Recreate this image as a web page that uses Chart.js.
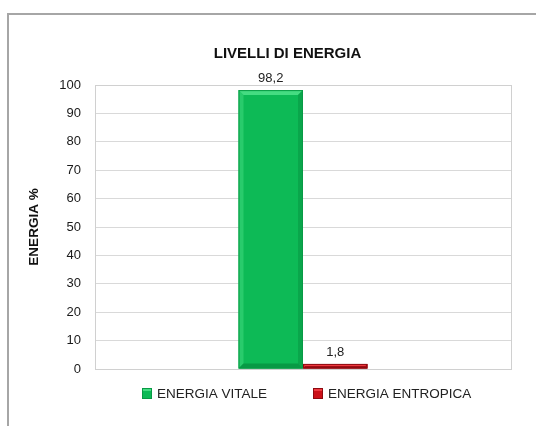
<!DOCTYPE html>
<html>
<head>
<meta charset="utf-8">
<script src="https://cdn.jsdelivr.net/npm/chart.js@4/dist/chart.umd.min.js"></script>
<style>
  html, body { margin: 0; padding: 0; background: #fff; }
  #frame { position: absolute; left: 7px; top: 13px; width: 600px; height: 500px; border: 2px solid #a6a6a6; box-sizing: border-box; }
  #wrap { position: absolute; left: 0; top: 0; width: 536px; height: 426px; }
</style>
</head>
<body>
<div id="frame"></div>
<div id="wrap"><canvas id="energyChart"></canvas></div>
<script>
  const categories = [''];
  const seriesNames = ['ENERGIA VITALE', 'ENERGIA ENTROPICA'];
  const vitale = [98.2];
  const entropica = [1.8];
  const yTicks = [0, 10, 20, 30, 40, 50, 60, 70, 80, 90, 100];

  const font = "'Liberation Sans', Arial, sans-serif";
  const bevelColors = [
    { light: '#45dc82', dark: '#089a45' },
    { light: '#ee3a40', dark: '#8e0a10' }
  ];

  // value labels above the bars, with comma decimals
  const valueLabels = {
    id: 'valueLabels',
    afterDatasetsDraw(chart) {
      const ctx = chart.ctx;
      ctx.save();
      ctx.font = '13px ' + font;
      ctx.fillStyle = '#222';
      ctx.textAlign = 'center';
      ctx.textBaseline = 'bottom';
      chart.data.datasets.forEach((ds, i) => {
        chart.getDatasetMeta(i).data.forEach((bar, j) => {
          ctx.fillText(String(ds.data[j]).replace('.', ','), bar.x, bar.y - 5);
        });
      });
      ctx.restore();
    }
  };

  // excel-ish bevel on each bar
  const bevel = {
    id: 'bevel',
    afterDatasetsDraw(chart) {
      const ctx = chart.ctx;
      ctx.save();
      chart.data.datasets.forEach((ds, i) => {
        const c = bevelColors[i];
        chart.getDatasetMeta(i).data.forEach(bar => {
          const l = bar.x - bar.width / 2, r = bar.x + bar.width / 2;
          const t = bar.y, b = bar.base;
          const s = Math.min(5, (b - t) / 2);
          ctx.fillStyle = c.light;
          ctx.beginPath();
          ctx.moveTo(l, t); ctx.lineTo(r, t); ctx.lineTo(r - s, t + s); ctx.lineTo(l + s, t + s);
          ctx.closePath(); ctx.fill();
          ctx.globalAlpha = 0.5;
          ctx.beginPath();
          ctx.moveTo(l, t); ctx.lineTo(l + s, t + s); ctx.lineTo(l + s, b - s); ctx.lineTo(l, b);
          ctx.closePath(); ctx.fill();
          ctx.globalAlpha = 1;
          ctx.fillStyle = c.dark;
          ctx.beginPath();
          ctx.moveTo(l, b); ctx.lineTo(r, b); ctx.lineTo(r - s, b - s); ctx.lineTo(l + s, b - s);
          ctx.closePath(); ctx.fill();
          ctx.globalAlpha = 0.6;
          ctx.beginPath();
          ctx.moveTo(r, t); ctx.lineTo(r - s, t + s); ctx.lineTo(r - s, b - s); ctx.lineTo(r, b);
          ctx.closePath(); ctx.fill();
          ctx.globalAlpha = 1;
          ctx.strokeStyle = c.dark;
          ctx.lineWidth = 1;
          ctx.strokeRect(l + 0.5, t + 0.5, r - l - 1, b - t - 1);
        });
      });
      ctx.restore();
    }
  };

  // plot area outline
  const plotBorder = {
    id: 'plotBorder',
    beforeDatasetsDraw(chart) {
      const a = chart.chartArea, ctx = chart.ctx;
      ctx.save();
      ctx.strokeStyle = '#d0d0d0';
      ctx.lineWidth = 1;
      ctx.strokeRect(Math.round(a.left) + 0.5, Math.round(a.top) + 0.5, Math.round(a.right - a.left), Math.round(a.bottom - a.top));
      ctx.restore();
    }
  };

  // the original chart was wider than the crop, so its title sits right of centre
  const shiftTitle = {
    id: 'shiftTitle',
    afterLayout(chart) {
      if (chart.titleBlock) chart.titleBlock.left = 64;
    }
  };

  // legend drawn by hand so the item spacing can match
  const legendItems = [{ x: 142, textX: 157 }, { x: 313, textX: 328 }];
  const customLegend = {
    id: 'customLegend',
    afterDraw(chart) {
      const ctx = chart.ctx;
      ctx.save();
      ctx.font = '13.5px ' + font;
      ctx.textBaseline = 'middle';
      chart.data.datasets.forEach((ds, i) => {
        const it = legendItems[i], y = 393;
        ctx.fillStyle = ds.backgroundColor;
        ctx.fillRect(it.x, y - 5, 10, 11);
        ctx.fillStyle = bevelColors[i].light;
        ctx.fillRect(it.x + 1, y - 4, 8, 2);
        ctx.strokeStyle = bevelColors[i].dark;
        ctx.strokeRect(it.x + 0.5, y - 4.5, 9, 10);
        ctx.fillStyle = '#222';
        ctx.fillText(ds.label, it.textX, y + 1);
      });
      ctx.restore();
    }
  };

  new Chart(document.getElementById('energyChart').getContext('2d'), {
    type: 'bar',
    data: {
      labels: categories,
      datasets: [
        { label: seriesNames[0], data: vitale, backgroundColor: '#0dba56', borderWidth: 0 },
        { label: seriesNames[1], data: entropica, backgroundColor: '#cc1018', borderWidth: 0 }
      ]
    },
    options: {
      responsive: true,
      maintainAspectRatio: false,
      animation: false,
      categoryPercentage: 0.31,
      barPercentage: 1,
      layout: { padding: { left: 0, right: 25, top: 0, bottom: 57 } },
      plugins: {
        title: { display: true, text: 'LIVELLI DI ENERGIA', color: '#111', font: { family: font, size: 15, weight: 'bold' }, padding: { top: 45, bottom: 22 } },
        legend: { display: false },
        tooltip: { enabled: false }
      },
      scales: {
        x: {
          grid: { display: false },
          border: { display: false },
          ticks: { display: false },
          afterFit(axis) { axis.height = 0; }
        },
        y: {
          min: 0,
          max: 100,
          afterBuildTicks(axis) { axis.ticks = yTicks.map(v => ({ value: v })); },
          afterFit(axis) { axis.width = 95; },
          grid: { color: '#d9d9d9', drawTicks: false },
          border: { display: false },
          ticks: { color: '#1a1a1a', font: { family: font, size: 13 }, padding: 14 },
          title: { display: true, text: 'ENERGIA %', color: '#111', font: { family: font, size: 13.5, weight: 'bold' }, padding: { top: 26, bottom: 0 } }
        }
      }
    },
    plugins: [shiftTitle, plotBorder, bevel, valueLabels, customLegend]
  });
</script>
</body>
</html>
